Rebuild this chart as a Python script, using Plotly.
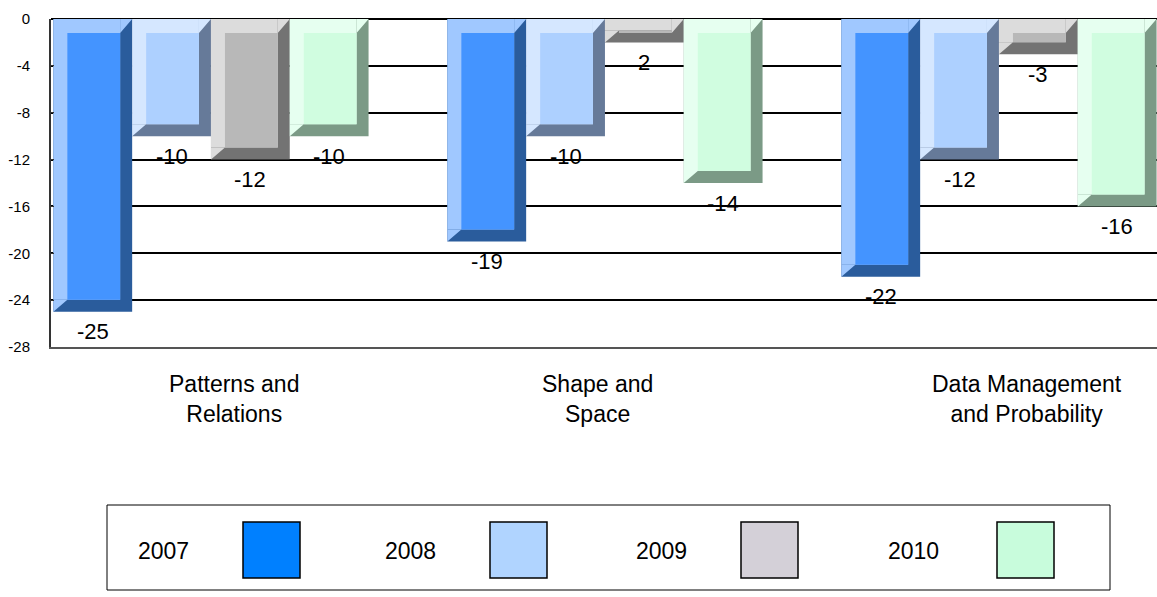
import plotly.graph_objects as go

categories = ["Patterns and<br>Relations", "Shape and<br>Space", "Data Management<br>and Probability"]
years = ["2007", "2008", "2009", "2010"]
v2007 = [-25, -19, -22]
v2008 = [-10, -10, -12]
v2009 = [-12, -2, -3]
v2010 = [-10, -14, -16]
labels2007 = ["-25", "-19", "-22"]
labels2008 = ["-10", "-10", "-12"]
labels2009 = ["-12", "2", "-3"]
labels2010 = ["-10", "-14", "-16"]
y_ticks = [0, -4, -8, -12, -16, -20, -24, -28]

series = [v2007, v2008, v2009, v2010]
series_labels = [labels2007, labels2008, labels2009, labels2010]

# styles
face = ["#4494FF", "#ADD0FF", "#B8B8B8", "#D0FDE0"]
light = ["#A0C8FF", "#D5E7FF", "#DCDCDC", "#E6FFF0"]
dark = ["#2A5C9C", "#667A99", "#737373", "#7B9A86"]
legend_fill = ["#0080FF", "#B0D4FF", "#D4D0D8", "#C8FCDC"]

W, H = 1157, 597
ML, MR, MT, MB = 51, 0, 19, 250
PW = W - ML - MR
PH = H - MT - MB
x_range = [-0.406, -0.406 + PW / 394.0]
y_range = [-28, 0]

slot = 0.2
bev_l = 14 / 394.0
bev_r = 12 / 394.0
bev_t = 14 / (PH / 28.0)
bev_b = 12 / (PH / 28.0)

xpos = list(range(len(categories)))
fig = go.Figure()
for i, vals in enumerate(series):
    off = -0.4 + i * slot
    # dark (right & bottom bevel)
    fig.add_trace(go.Bar(x=xpos, y=vals, base=[0] * len(vals), offset=off, width=slot,
                         marker=dict(color=dark[i], line=dict(width=0)),
                         showlegend=False, hoverinfo="skip"))
    # light (top & left bevel)
    fig.add_trace(go.Bar(x=xpos, y=[v + bev_b for v in vals], base=[0] * len(vals),
                         offset=off, width=slot - bev_r,
                         marker=dict(color=light[i], line=dict(width=0)),
                         showlegend=False, hoverinfo="skip"))
    # diagonal bevel corners (light triangles at top-right and bottom-left)
    tx, ty = [], []
    for j, v in enumerate(vals):
        xl = j + off
        xr = xl + slot
        tx += [xr - bev_r, xr, xr - bev_r, xr - bev_r, None]
        ty += [0, 0, -bev_t, 0, None]
        tx += [xl, xl, xl + bev_l, xl, None]
        ty += [v, v + bev_b, v + bev_b, v, None]
    fig.add_trace(go.Scatter(x=tx, y=ty, mode="lines", fill="toself", fillcolor=light[i],
                             line=dict(width=0, color=light[i]), showlegend=False,
                             hoverinfo="skip"))
    # front face
    fig.add_trace(go.Bar(x=xpos, y=[(v + bev_b) + bev_t for v in vals],
                         base=[-bev_t] * len(vals),
                         offset=off + bev_l, width=slot - bev_l - bev_r,
                         marker=dict(color=face[i], line=dict(width=0)),
                         name=years[i], hoverinfo="skip", showlegend=False))

annotations = []
for i, vals in enumerate(series):
    for j, v in enumerate(vals):
        annotations.append(dict(x=j - 0.4 + i * slot + slot / 2, y=v, xref="x", yref="y",
                                text=series_labels[i][j], showarrow=False,
                                yanchor="middle", yshift=-20,
                                font=dict(family="Arial", size=22, color="black")))

cat_shift = [23, -7, 28]
for j, c in enumerate(categories):
    annotations.append(dict(x=j, y=0, xref="x", yref="paper", text=c, showarrow=False,
                            xanchor="center", yanchor="top", xshift=cat_shift[j], yshift=-22,
                            align="center",
                            font=dict(family="Arial", size=23, color="black")))

def px_x(p):
    return (p - ML) / PW

def px_y(p):
    return (H - MB - p) / PH

shapes = [dict(type="rect", xref="paper", yref="paper",
               x0=px_x(107), x1=px_x(1110), y0=px_y(590), y1=px_y(505),
               line=dict(color="black", width=1), fillcolor="rgba(0,0,0,0)")]
legend_text_x = [136, 383, 634, 886]
legend_sw_x = [243, 490, 741, 997]
for i, yname in enumerate(years):
    annotations.append(dict(x=px_x(legend_text_x[i]), y=px_y(551), xref="paper", yref="paper",
                            text=yname, showarrow=False, xanchor="left", yanchor="middle",
                            font=dict(family="Arial", size=23, color="black")))
    shapes.append(dict(type="rect", xref="paper", yref="paper",
                       x0=px_x(legend_sw_x[i]), x1=px_x(legend_sw_x[i] + 57),
                       y0=px_y(578), y1=px_y(522),
                       line=dict(color="black", width=1.5), fillcolor=legend_fill[i]))

fig.update_layout(
    width=W, height=H,
    margin=dict(l=ML, r=MR, t=MT, b=MB, pad=0),
    paper_bgcolor="white", plot_bgcolor="white",
    barmode="overlay",
    showlegend=False,
    xaxis=dict(range=x_range, showticklabels=False, showgrid=False, zeroline=False,
               showline=True, linecolor="#555555", linewidth=2, ticks=""),
    yaxis=dict(range=y_range, tickvals=y_ticks, ticktext=[str(t) for t in y_ticks],
               showgrid=True, gridcolor="black", gridwidth=2, zeroline=True,
               zerolinecolor="black", zerolinewidth=2,
               showline=True, linecolor="#333333", linewidth=2,
               ticks="inside", ticklen=3, tickcolor="#333333",
               ticklabelstandoff=16,
               tickfont=dict(family="Arial", size=15, color="black")),
    annotations=annotations,
    shapes=shapes,
)

fig.write_html("out.html", config={"displayModeBar": False},
               post_script="document.body.style.margin='0';document.body.style.overflow='hidden';")
